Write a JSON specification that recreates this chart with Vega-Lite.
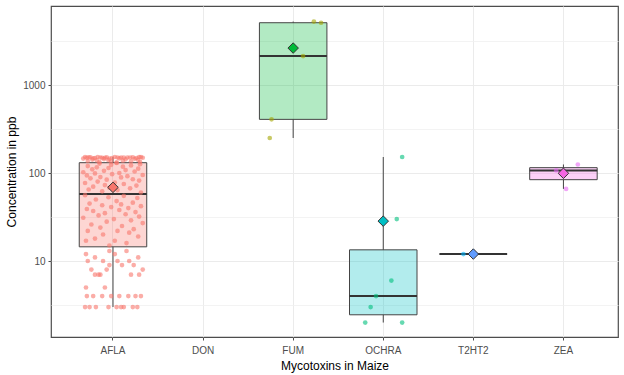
{
  "$schema": "https://vega.github.io/schema/vega-lite/v6.json",
  "width": 567,
  "height": 331,
  "autosize": {"type": "none"},
  "padding": {"left": 51, "top": 6, "right": 6, "bottom": 38},
  "background": "white",
  "config": {
    "font": "Liberation Sans",
    "view": {"stroke": "#4d4d4d", "strokeWidth": 1.2},
    "axis": {
      "labelFont": "Liberation Sans",
      "titleFont": "Liberation Sans",
      "labelFontSize": 10,
      "labelColor": "#4d4d4d",
      "titleFontSize": 12,
      "titleColor": "#000000",
      "titleFontWeight": "normal",
      "tickColor": "#4d4d4d",
      "tickSize": 3,
      "domain": false,
      "gridColor": "#ebebeb",
      "gridWidth": 1
    }
  },
  "datasets": {
    "stats": [
      {"toxin": "AFLA", "lower": 3, "q1": 14.5, "median": 57.7, "q3": 131, "upper": 152, "mean": 68.7},
      {"toxin": "FUM", "lower": 250, "q1": 407, "median": 2130, "q3": 5100, "upper": 5260, "mean": 2629},
      {"toxin": "OCHRA", "lower": 2, "q1": 2.45, "median": 4, "q3": 13.4, "upper": 152, "mean": 28.4},
      {"toxin": "T2HT2", "lower": 12, "q1": 12, "median": 12, "q3": 12, "upper": 12, "mean": 12},
      {"toxin": "ZEA", "lower": 66, "q1": 84, "median": 107, "q3": 115, "upper": 125, "mean": 99.3}
    ],
    "pts": [
      {"toxin": "AFLA", "value": 3, "jitter": -0.31},
      {"toxin": "AFLA", "value": 3, "jitter": 0.12},
      {"toxin": "AFLA", "value": 3, "jitter": -0.05},
      {"toxin": "AFLA", "value": 3, "jitter": 0.27},
      {"toxin": "AFLA", "value": 3, "jitter": -0.19},
      {"toxin": "AFLA", "value": 3, "jitter": 0.04},
      {"toxin": "AFLA", "value": 3, "jitter": 0.22},
      {"toxin": "AFLA", "value": 3, "jitter": -0.26},
      {"toxin": "AFLA", "value": 3, "jitter": 0.09},
      {"toxin": "AFLA", "value": 4, "jitter": -0.12},
      {"toxin": "AFLA", "value": 4, "jitter": 0.31},
      {"toxin": "AFLA", "value": 4, "jitter": -0.02},
      {"toxin": "AFLA", "value": 4, "jitter": 0.17},
      {"toxin": "AFLA", "value": 4, "jitter": -0.29},
      {"toxin": "AFLA", "value": 4, "jitter": 0.07},
      {"toxin": "AFLA", "value": 4, "jitter": -0.22},
      {"toxin": "AFLA", "value": 4, "jitter": 0.25},
      {"toxin": "AFLA", "value": 5, "jitter": -0.3},
      {"toxin": "AFLA", "value": 5, "jitter": -0.09},
      {"toxin": "AFLA", "value": 7, "jitter": -0.16},
      {"toxin": "AFLA", "value": 7, "jitter": 0.29},
      {"toxin": "AFLA", "value": 7, "jitter": -0.2},
      {"toxin": "AFLA", "value": 7, "jitter": -0.14},
      {"toxin": "AFLA", "value": 7, "jitter": 0.2},
      {"toxin": "AFLA", "value": 8, "jitter": -0.07},
      {"toxin": "AFLA", "value": 8, "jitter": 0.33},
      {"toxin": "AFLA", "value": 8, "jitter": -0.24},
      {"toxin": "AFLA", "value": 9, "jitter": 0.1},
      {"toxin": "AFLA", "value": 9, "jitter": -0.04},
      {"toxin": "AFLA", "value": 9, "jitter": 0.23},
      {"toxin": "AFLA", "value": 10, "jitter": -0.28},
      {"toxin": "AFLA", "value": 10, "jitter": 0.05},
      {"toxin": "AFLA", "value": 10, "jitter": 0.18},
      {"toxin": "AFLA", "value": 10, "jitter": -0.11},
      {"toxin": "AFLA", "value": 11, "jitter": 0.28},
      {"toxin": "AFLA", "value": 11, "jitter": -0.2},
      {"toxin": "AFLA", "value": 12, "jitter": 0.02},
      {"toxin": "AFLA", "value": 12, "jitter": -0.3},
      {"toxin": "AFLA", "value": 13, "jitter": 0.15},
      {"toxin": "AFLA", "value": 13, "jitter": -0.04},
      {"toxin": "AFLA", "value": 15, "jitter": -0.04},
      {"toxin": "AFLA", "value": 16, "jitter": 0.15},
      {"toxin": "AFLA", "value": 17, "jitter": -0.3},
      {"toxin": "AFLA", "value": 17, "jitter": 0.02},
      {"toxin": "AFLA", "value": 18, "jitter": -0.2},
      {"toxin": "AFLA", "value": 19, "jitter": 0.28},
      {"toxin": "AFLA", "value": 20, "jitter": -0.11},
      {"toxin": "AFLA", "value": 21, "jitter": 0.18},
      {"toxin": "AFLA", "value": 22, "jitter": 0.05},
      {"toxin": "AFLA", "value": 22, "jitter": -0.28},
      {"toxin": "AFLA", "value": 23, "jitter": 0.23},
      {"toxin": "AFLA", "value": 24, "jitter": -0.14},
      {"toxin": "AFLA", "value": 25, "jitter": 0.1},
      {"toxin": "AFLA", "value": 26, "jitter": -0.24},
      {"toxin": "AFLA", "value": 27, "jitter": 0.33},
      {"toxin": "AFLA", "value": 28, "jitter": -0.07},
      {"toxin": "AFLA", "value": 29, "jitter": 0.2},
      {"toxin": "AFLA", "value": 30, "jitter": 0.01},
      {"toxin": "AFLA", "value": 31, "jitter": -0.33},
      {"toxin": "AFLA", "value": 32, "jitter": 0.29},
      {"toxin": "AFLA", "value": 33, "jitter": -0.16},
      {"toxin": "AFLA", "value": 34, "jitter": 0.14},
      {"toxin": "AFLA", "value": 35, "jitter": -0.09},
      {"toxin": "AFLA", "value": 36, "jitter": 0.25},
      {"toxin": "AFLA", "value": 37, "jitter": -0.22},
      {"toxin": "AFLA", "value": 38, "jitter": 0.07},
      {"toxin": "AFLA", "value": 39, "jitter": -0.29},
      {"toxin": "AFLA", "value": 40, "jitter": 0.17},
      {"toxin": "AFLA", "value": 41, "jitter": -0.02},
      {"toxin": "AFLA", "value": 42, "jitter": 0.31},
      {"toxin": "AFLA", "value": 43, "jitter": -0.12},
      {"toxin": "AFLA", "value": 44, "jitter": 0.09},
      {"toxin": "AFLA", "value": 45, "jitter": -0.26},
      {"toxin": "AFLA", "value": 46, "jitter": 0.22},
      {"toxin": "AFLA", "value": 48, "jitter": 0.04},
      {"toxin": "AFLA", "value": 50, "jitter": -0.19},
      {"toxin": "AFLA", "value": 52, "jitter": 0.27},
      {"toxin": "AFLA", "value": 53, "jitter": -0.05},
      {"toxin": "AFLA", "value": 55, "jitter": 0.12},
      {"toxin": "AFLA", "value": 56, "jitter": -0.31},
      {"toxin": "AFLA", "value": 60, "jitter": 0.31},
      {"toxin": "AFLA", "value": 62, "jitter": -0.12},
      {"toxin": "AFLA", "value": 64, "jitter": 0.05},
      {"toxin": "AFLA", "value": 65, "jitter": -0.27},
      {"toxin": "AFLA", "value": 67, "jitter": 0.19},
      {"toxin": "AFLA", "value": 68, "jitter": -0.04},
      {"toxin": "AFLA", "value": 70, "jitter": -0.22},
      {"toxin": "AFLA", "value": 72, "jitter": 0.26},
      {"toxin": "AFLA", "value": 73, "jitter": -0.09},
      {"toxin": "AFLA", "value": 75, "jitter": 0.12},
      {"toxin": "AFLA", "value": 77, "jitter": -0.31},
      {"toxin": "AFLA", "value": 78, "jitter": 0.02},
      {"toxin": "AFLA", "value": 80, "jitter": -0.17},
      {"toxin": "AFLA", "value": 82, "jitter": 0.29},
      {"toxin": "AFLA", "value": 84, "jitter": -0.07},
      {"toxin": "AFLA", "value": 85, "jitter": 0.22},
      {"toxin": "AFLA", "value": 87, "jitter": -0.25},
      {"toxin": "AFLA", "value": 89, "jitter": 0.09},
      {"toxin": "AFLA", "value": 90, "jitter": -0.14},
      {"toxin": "AFLA", "value": 92, "jitter": 0.16},
      {"toxin": "AFLA", "value": 94, "jitter": -0.29},
      {"toxin": "AFLA", "value": 95, "jitter": 0.33},
      {"toxin": "AFLA", "value": 97, "jitter": -0.01},
      {"toxin": "AFLA", "value": 99, "jitter": -0.2},
      {"toxin": "AFLA", "value": 100, "jitter": 0.07},
      {"toxin": "AFLA", "value": 102, "jitter": -0.33},
      {"toxin": "AFLA", "value": 104, "jitter": 0.24},
      {"toxin": "AFLA", "value": 106, "jitter": -0.1},
      {"toxin": "AFLA", "value": 108, "jitter": 0.14},
      {"toxin": "AFLA", "value": 110, "jitter": -0.23},
      {"toxin": "AFLA", "value": 112, "jitter": 0.28},
      {"toxin": "AFLA", "value": 114, "jitter": -0.05},
      {"toxin": "AFLA", "value": 116, "jitter": -0.18},
      {"toxin": "AFLA", "value": 118, "jitter": 0.11},
      {"toxin": "AFLA", "value": 120, "jitter": -0.28},
      {"toxin": "AFLA", "value": 122, "jitter": 0.2},
      {"toxin": "AFLA", "value": 124, "jitter": -0.02},
      {"toxin": "AFLA", "value": 126, "jitter": 0.3},
      {"toxin": "AFLA", "value": 128, "jitter": -0.15},
      {"toxin": "AFLA", "value": 130, "jitter": 0.04},
      {"toxin": "AFLA", "value": 132, "jitter": 0.04},
      {"toxin": "AFLA", "value": 133, "jitter": -0.15},
      {"toxin": "AFLA", "value": 134, "jitter": 0.3},
      {"toxin": "AFLA", "value": 135, "jitter": -0.02},
      {"toxin": "AFLA", "value": 136, "jitter": 0.2},
      {"toxin": "AFLA", "value": 137, "jitter": -0.28},
      {"toxin": "AFLA", "value": 138, "jitter": 0.11},
      {"toxin": "AFLA", "value": 139, "jitter": -0.18},
      {"toxin": "AFLA", "value": 140, "jitter": -0.05},
      {"toxin": "AFLA", "value": 141, "jitter": 0.28},
      {"toxin": "AFLA", "value": 142, "jitter": -0.23},
      {"toxin": "AFLA", "value": 143, "jitter": 0.14},
      {"toxin": "AFLA", "value": 144, "jitter": -0.1},
      {"toxin": "AFLA", "value": 145, "jitter": 0.24},
      {"toxin": "AFLA", "value": 146, "jitter": -0.33},
      {"toxin": "AFLA", "value": 147, "jitter": 0.07},
      {"toxin": "AFLA", "value": 148, "jitter": -0.2},
      {"toxin": "AFLA", "value": 148, "jitter": -0.01},
      {"toxin": "AFLA", "value": 149, "jitter": 0.33},
      {"toxin": "AFLA", "value": 149, "jitter": -0.29},
      {"toxin": "AFLA", "value": 150, "jitter": 0.16},
      {"toxin": "AFLA", "value": 150, "jitter": -0.14},
      {"toxin": "AFLA", "value": 150, "jitter": 0.09},
      {"toxin": "AFLA", "value": 151, "jitter": -0.25},
      {"toxin": "AFLA", "value": 151, "jitter": 0.22},
      {"toxin": "AFLA", "value": 151, "jitter": -0.07},
      {"toxin": "AFLA", "value": 152, "jitter": 0.29},
      {"toxin": "AFLA", "value": 152, "jitter": -0.17},
      {"toxin": "AFLA", "value": 152, "jitter": 0.02},
      {"toxin": "AFLA", "value": 152, "jitter": -0.31},
      {"toxin": "AFLA", "value": 150, "jitter": 0.12},
      {"toxin": "AFLA", "value": 149, "jitter": -0.09},
      {"toxin": "AFLA", "value": 148, "jitter": 0.26},
      {"toxin": "AFLA", "value": 147, "jitter": -0.22},
      {"toxin": "AFLA", "value": 146, "jitter": -0.04},
      {"toxin": "AFLA", "value": 150, "jitter": 0.19},
      {"toxin": "AFLA", "value": 151, "jitter": -0.27},
      {"toxin": "AFLA", "value": 150, "jitter": 0.05},
      {"toxin": "AFLA", "value": 149, "jitter": -0.12},
      {"toxin": "AFLA", "value": 152, "jitter": 0.31},
      {"toxin": "FUM", "value": 5260, "jitter": 0.23},
      {"toxin": "FUM", "value": 5100, "jitter": 0.31},
      {"toxin": "FUM", "value": 2130, "jitter": 0.11},
      {"toxin": "FUM", "value": 407, "jitter": -0.24},
      {"toxin": "FUM", "value": 250, "jitter": -0.26},
      {"toxin": "OCHRA", "value": 152, "jitter": 0.21},
      {"toxin": "OCHRA", "value": 30, "jitter": 0.15},
      {"toxin": "OCHRA", "value": 6, "jitter": 0.09},
      {"toxin": "OCHRA", "value": 4, "jitter": -0.08},
      {"toxin": "OCHRA", "value": 3, "jitter": -0.14},
      {"toxin": "OCHRA", "value": 2, "jitter": -0.2},
      {"toxin": "OCHRA", "value": 2, "jitter": 0.21},
      {"toxin": "T2HT2", "value": 12, "jitter": -0.11},
      {"toxin": "ZEA", "value": 125, "jitter": 0.16},
      {"toxin": "ZEA", "value": 66, "jitter": 0.03},
      {"toxin": "ZEA", "value": 107, "jitter": -0.08}
    ]
  },
  "encoding": {
    "x": {
      "field": "toxin",
      "type": "nominal",
      "scale": {"domain": ["AFLA", "DON", "FUM", "OCHRA", "T2HT2", "ZEA"], "paddingInner": 0, "paddingOuter": 0.147, "align": 0.64},
      "axis": {"title": "Mycotoxins in Maize", "labelAngle": 0, "grid": true, "bandPosition": 0.5, "labelPadding": 5, "titlePadding": 5}
    }
  },
  "resolve": {"axis": {"y": "independent"}},
  "layer": [
    {
      "data": {"name": "stats"},
      "mark": {"type": "rule", "color": "#444444", "strokeWidth": 1},
      "encoding": {
        "y": {"field": "lower", "type": "quantitative", "scale": {"type": "log", "domain": [1.37, 7900], "nice": false},
          "axis": {"orient": "left", "values": [3.1623, 31.623, 316.23, 3162.3], "labels": false, "ticks": false, "title": null, "grid": true, "gridColor": "#f0f0f0", "gridWidth": 0.8}},
        "y2": {"field": "q1"}
      }
    },
    {
      "data": {"name": "stats"},
      "mark": {"type": "rule", "color": "#444444", "strokeWidth": 1},
      "encoding": {
        "y": {"field": "q3", "type": "quantitative", "scale": {"type": "log", "domain": [1.37, 7900], "nice": false},
          "axis": {"orient": "left", "title": "Concentration in ppb", "values": [10, 100, 1000], "format": "d", "grid": true, "labelPadding": 3, "titlePadding": 4}},
        "y2": {"field": "upper"}
      }
    },
    {
      "data": {"name": "stats"},
      "mark": {"type": "bar", "size": 67.5, "fillOpacity": 0.3, "stroke": "#444444", "strokeWidth": 1},
      "encoding": {
        "y": {"field": "q1", "type": "quantitative", "scale": {"type": "log", "domain": [1.37, 7900], "nice": false}, "axis": null},
        "y2": {"field": "q3"},
        "fill": {"field": "toxin", "type": "nominal", "scale": {"domain": ["AFLA", "DON", "FUM", "OCHRA", "T2HT2", "ZEA"], "range": ["#F8766D", "#B79F00", "#00BA38", "#00BFC4", "#619CFF", "#F564E3"]}, "legend": null}
      }
    },
    {
      "data": {"name": "stats"},
      "mark": {"type": "tick", "size": 67.5, "thickness": 2, "color": "#333333", "opacity": 1},
      "encoding": {
        "y": {"field": "median", "type": "quantitative", "scale": {"type": "log", "domain": [1.37, 7900], "nice": false}, "axis": null}
      }
    },
    {
      "data": {"name": "pts"},
      "mark": {"type": "point", "filled": true, "size": 22, "opacity": 0.6, "strokeWidth": 0},
      "encoding": {
        "y": {"field": "value", "type": "quantitative", "scale": {"type": "log", "domain": [1.37, 7900], "nice": false}, "axis": null},
        "xOffset": {"field": "jitter", "type": "quantitative", "scale": {"domain": [-0.5, 0.5]}},
        "color": {"field": "toxin", "type": "nominal", "scale": {"domain": ["AFLA", "FUM", "OCHRA", "T2HT2", "ZEA"], "range": ["#F8766D", "#A3A500", "#00BF7D", "#00B0F6", "#E76BF3"]}, "legend": null}
      }
    },
    {
      "data": {"name": "stats"},
      "mark": {"type": "point", "shape": "diamond", "filled": true, "size": 110, "opacity": 1, "stroke": "#333333", "strokeWidth": 1},
      "encoding": {
        "y": {"field": "mean", "type": "quantitative", "scale": {"type": "log", "domain": [1.37, 7900], "nice": false}, "axis": null},
        "fill": {"field": "toxin", "type": "nominal", "scale": {"domain": ["AFLA", "DON", "FUM", "OCHRA", "T2HT2", "ZEA"], "range": ["#F8766D", "#B79F00", "#00BA38", "#00BFC4", "#619CFF", "#F564E3"]}, "legend": null}
      }
    }
  ]
}
